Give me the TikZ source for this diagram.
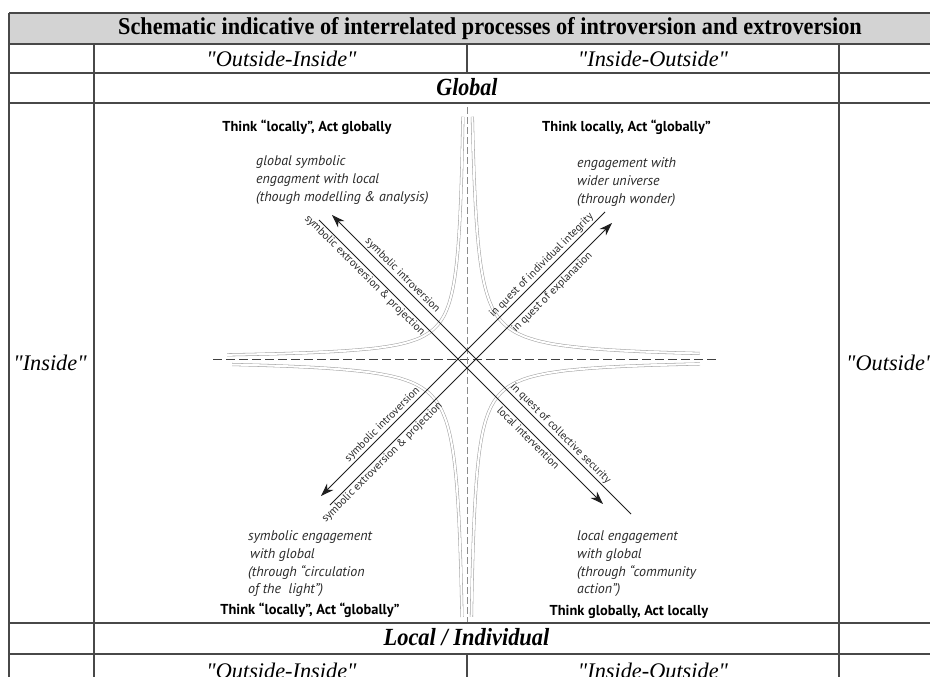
\documentclass[tikz,border=0pt]{standalone}
\usepackage{fontspec}
\newfontfamily\tserif{Liberation Serif}
\newfontfamily\dsans{PT Sans}
\usetikzlibrary{arrows.meta}
\definecolor{gridc}{RGB}{72,72,72}
\definecolor{headc}{RGB}{211,211,211}
\definecolor{labc}{RGB}{42,42,42}
\definecolor{hypc}{RGB}{165,165,165}
\begin{document}
\begin{tikzpicture}[x=1pt,y=-1pt,
  gridline/.style={draw=gridc, line width=1.4pt},
  rowtxt/.style={inner sep=0pt, font=\tserif\fontsize{22.3}{24}\selectfont\itshape},
  thinkbox/.style={inner sep=0pt, font=\dsans\fontsize{14.4}{16}\selectfont\bfseries},
  engbox/.style={inner sep=0pt, anchor=west, align=left, text=labc, font=\dsans\fontsize{14}{17.7}\selectfont\itshape},
  diaglab/.style={inner sep=1.4pt, text=labc, font=\dsans\fontsize{11}{12}\selectfont},
  mainline/.style={draw=black!88, line width=1pt},
  tip/.style={-{Stealth[length=13pt,width=9pt,inset=4pt]}},
  hyper/.style={draw=hypc, line width=0.55pt, double=white, double distance=2pt},
  axish/.style={draw=black!75, line width=0.75pt, dash pattern=on 9pt off 4pt},
  axisv/.style={draw=black!45, line width=0.75pt, dash pattern=on 7pt off 3pt}]
\useasboundingbox (0,0) rectangle (930,677);
\clip (0,0) rectangle (930,677);
\fill[white] (0,0) rectangle (930,677);
% ---------- table ----------
\fill[headc] (9,13) rectangle (960,44);
\foreach \yy in {13,44,73,103,623,654}{\draw[gridline] (9,\yy) -- (960,\yy);}
\draw[gridline] (9,13) -- (9,690);
\draw[gridline] (94,44) -- (94,690);
\draw[gridline] (839,44) -- (839,690);
\draw[gridline] (467,44) -- (467,73);
\draw[gridline] (467,654) -- (467,690);
\node[inner sep=0pt] (title) at (490,29) {\scalebox{1.013}[1.1]{\tserif\fontsize{22}{24}\selectfont\bfseries Schematic indicative of interrelated processes of introversion and extroversion}};
\node[rowtxt] (oi1) at (281.5,59) {"Outside-Inside"};
\node[rowtxt] (io1) at (653,59) {"Inside-Outside"};
\node[inner sep=0pt] (glob) at (467,87) {\scalebox{1}[1.12]{\tserif\fontsize{22}{24}\selectfont\bfseries\itshape Global}};
\node[rowtxt] (ins) at (50,363) {"Inside"};
\node[rowtxt, anchor=west] (outs) at (846,363) {"Outside"};
\node[inner sep=0pt] (loc) at (466.5,637) {\scalebox{1.02}[1.12]{\tserif\fontsize{22}{24}\selectfont\bfseries\itshape Local / Individual}};
\node[rowtxt] (oi2) at (281.5,671) {"Outside-Inside"};
\node[rowtxt] (io2) at (653,671) {"Inside-Outside"};
% ---------- axes ----------
\coordinate (hL) at (213,359); \coordinate (hR) at (717,359);
\coordinate (vT) at (467,107); \coordinate (vB) at (467,622);
\draw[axish] (hL) -- (hR);
\draw[axisv] (vT) -- (vB);
% ---------- hyperbolic curves ----------
\draw[hyper] plot[domain=1.418:5.48, samples=90, smooth] ({467-exp(\x)},{359-1000*exp(-\x)});
\draw[hyper] plot[domain=1.68:5.451, samples=90, smooth] ({467+exp(\x)},{359-1300*exp(-\x)});
\draw[hyper] plot[domain=1.617:5.46, samples=90, smooth] ({467-exp(\x)},{359+1300*exp(-\x)});
\draw[hyper] plot[domain=1.495:5.451, samples=90, smooth] ({467+exp(\x)},{359+1150*exp(-\x)});
% ---------- diagonal lines ----------
\coordinate (A1) at (631,514); \coordinate (A2) at (332,215);
\coordinate (B1) at (319,220); \coordinate (B2) at (603,504);
\coordinate (C1) at (605,212); \coordinate (C2) at (321,496);
\coordinate (D1) at (330,505); \coordinate (D2) at (612,223);
\draw[mainline, tip] (A1) -- (A2)
  node[diaglab, pos=0.781, rotate=-45, anchor=south] (la1) {symbolic introversion}
  node[diaglab, pos=0.2525, rotate=-45, anchor=south] (la2) {in quest of collective security};
\draw[mainline, tip] (B1) -- (B2)
  node[diaglab, pos=0.178, rotate=-45, anchor=north] (lb1) {symbolic extroversion \& projection}
  node[diaglab, pos=0.752, rotate=-45, anchor=north] (lb2) {local intervention};
\draw[mainline, tip] (C1) -- (C2)
  node[diaglab, pos=0.206, rotate=45, anchor=south] (lc1) {in quest of individual integrity}
  node[diaglab, pos=0.766, rotate=45, anchor=south] (lc2) {symbolic introversion};
\draw[mainline, tip] (D1) -- (D2)
  node[diaglab, pos=0.771, rotate=45, anchor=north] (ld1) {in quest of explanation}
  node[diaglab, pos=0.168, rotate=45, anchor=north] (ld2) {symbolic extroversion \& projection};
% ---------- quadrant texts ----------
\node[thinkbox] (t1) at (307,127) {Think “locally”, Act globally};
\node[thinkbox] (t2) at (626.5,127) {Think locally, Act “globally”};
\node[thinkbox] (t3) at (310,610) {Think “locally”, Act “globally”};
\node[thinkbox] (t4) at (629,612) {Think globally, Act locally};
\node[engbox] (e1) at (256,180) {global symbolic\\engagment with local\\(though modelling \& analysis)};
\node[engbox] (e2) at (577,182) {engagement with\\wider universe\\(through wonder)};
\node[engbox] (e3) at (248,564) {symbolic engagement\\\hspace{2pt}with global\\(through “circulation\\of the\ \ light”)};
\node[engbox] (e4) at (577,564) {local engagement\\with global\\(through “community\\action”)};
\end{tikzpicture}
\end{document}
